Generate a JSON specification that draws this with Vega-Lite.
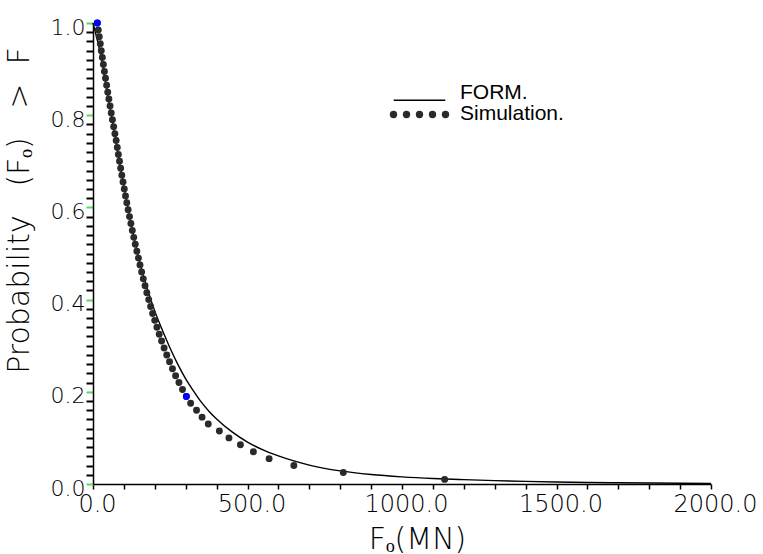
{
  "$schema": "https://vega.github.io/schema/vega-lite/v6.json",
  "width": 618,
  "height": 461,
  "autosize": {"type": "none"},
  "padding": {"left": 93, "top": 23, "right": 52, "bottom": 70},
  "background": "white",
  "config": {"view": {"stroke": null}, "font": "DejaVu Sans"},
  "datasets": {
    "form": [
      {"x": 0, "p": 1.0, "series": "FORM."},
      {"x": 25, "p": 0.93, "series": "FORM."},
      {"x": 50, "p": 0.835, "series": "FORM."},
      {"x": 75, "p": 0.74, "series": "FORM."},
      {"x": 100, "p": 0.645, "series": "FORM."},
      {"x": 125, "p": 0.56, "series": "FORM."},
      {"x": 150, "p": 0.485, "series": "FORM."},
      {"x": 175, "p": 0.425, "series": "FORM."},
      {"x": 200, "p": 0.375, "series": "FORM."},
      {"x": 225, "p": 0.333, "series": "FORM."},
      {"x": 250, "p": 0.294, "series": "FORM."},
      {"x": 275, "p": 0.259, "series": "FORM."},
      {"x": 300, "p": 0.228, "series": "FORM."},
      {"x": 325, "p": 0.202, "series": "FORM."},
      {"x": 350, "p": 0.178, "series": "FORM."},
      {"x": 375, "p": 0.158, "series": "FORM."},
      {"x": 400, "p": 0.141, "series": "FORM."},
      {"x": 450, "p": 0.113, "series": "FORM."},
      {"x": 500, "p": 0.091, "series": "FORM."},
      {"x": 550, "p": 0.074, "series": "FORM."},
      {"x": 600, "p": 0.061, "series": "FORM."},
      {"x": 650, "p": 0.05, "series": "FORM."},
      {"x": 700, "p": 0.041, "series": "FORM."},
      {"x": 800, "p": 0.0284, "series": "FORM."},
      {"x": 900, "p": 0.0206, "series": "FORM."},
      {"x": 1000, "p": 0.0155, "series": "FORM."},
      {"x": 1100, "p": 0.0119, "series": "FORM."},
      {"x": 1200, "p": 0.0094, "series": "FORM."},
      {"x": 1300, "p": 0.0073, "series": "FORM."},
      {"x": 1400, "p": 0.0057, "series": "FORM."},
      {"x": 1500, "p": 0.0044, "series": "FORM."},
      {"x": 1600, "p": 0.0034, "series": "FORM."},
      {"x": 1700, "p": 0.0027, "series": "FORM."},
      {"x": 1800, "p": 0.0021, "series": "FORM."},
      {"x": 1900, "p": 0.0016, "series": "FORM."},
      {"x": 2000, "p": 0.0013, "series": "FORM."}
    ],
    "sim": [
      {"x": 14, "p": 1.0, "kind": "marked", "series": "Simulation."},
      {"x": 17.1, "p": 0.985, "kind": "sample", "series": "Simulation."},
      {"x": 20.3, "p": 0.97, "kind": "sample", "series": "Simulation."},
      {"x": 23.6, "p": 0.955, "kind": "sample", "series": "Simulation."},
      {"x": 26.8, "p": 0.94, "kind": "sample", "series": "Simulation."},
      {"x": 30.2, "p": 0.925, "kind": "sample", "series": "Simulation."},
      {"x": 33.6, "p": 0.91, "kind": "sample", "series": "Simulation."},
      {"x": 37.0, "p": 0.895, "kind": "sample", "series": "Simulation."},
      {"x": 40.5, "p": 0.88, "kind": "sample", "series": "Simulation."},
      {"x": 44.1, "p": 0.865, "kind": "sample", "series": "Simulation."},
      {"x": 47.7, "p": 0.85, "kind": "sample", "series": "Simulation."},
      {"x": 51.4, "p": 0.835, "kind": "sample", "series": "Simulation."},
      {"x": 55.2, "p": 0.82, "kind": "sample", "series": "Simulation."},
      {"x": 59.0, "p": 0.805, "kind": "sample", "series": "Simulation."},
      {"x": 62.9, "p": 0.79, "kind": "sample", "series": "Simulation."},
      {"x": 66.9, "p": 0.775, "kind": "sample", "series": "Simulation."},
      {"x": 70.9, "p": 0.76, "kind": "sample", "series": "Simulation."},
      {"x": 75.0, "p": 0.745, "kind": "sample", "series": "Simulation."},
      {"x": 78.6, "p": 0.73, "kind": "sample", "series": "Simulation."},
      {"x": 82.1, "p": 0.715, "kind": "sample", "series": "Simulation."},
      {"x": 85.8, "p": 0.7, "kind": "sample", "series": "Simulation."},
      {"x": 89.5, "p": 0.685, "kind": "sample", "series": "Simulation."},
      {"x": 93.3, "p": 0.67, "kind": "sample", "series": "Simulation."},
      {"x": 97.2, "p": 0.655, "kind": "sample", "series": "Simulation."},
      {"x": 101.2, "p": 0.64, "kind": "sample", "series": "Simulation."},
      {"x": 105.2, "p": 0.625, "kind": "sample", "series": "Simulation."},
      {"x": 109.4, "p": 0.61, "kind": "sample", "series": "Simulation."},
      {"x": 113.7, "p": 0.595, "kind": "sample", "series": "Simulation."},
      {"x": 118.1, "p": 0.58, "kind": "sample", "series": "Simulation."},
      {"x": 122.6, "p": 0.565, "kind": "sample", "series": "Simulation."},
      {"x": 127.2, "p": 0.55, "kind": "sample", "series": "Simulation."},
      {"x": 131.9, "p": 0.535, "kind": "sample", "series": "Simulation."},
      {"x": 136.8, "p": 0.52, "kind": "sample", "series": "Simulation."},
      {"x": 141.9, "p": 0.505, "kind": "sample", "series": "Simulation."},
      {"x": 147.1, "p": 0.49, "kind": "sample", "series": "Simulation."},
      {"x": 152.1, "p": 0.475, "kind": "sample", "series": "Simulation."},
      {"x": 157.4, "p": 0.46, "kind": "sample", "series": "Simulation."},
      {"x": 162.8, "p": 0.445, "kind": "sample", "series": "Simulation."},
      {"x": 168.4, "p": 0.43, "kind": "sample", "series": "Simulation."},
      {"x": 174.2, "p": 0.415, "kind": "sample", "series": "Simulation."},
      {"x": 180.3, "p": 0.4, "kind": "sample", "series": "Simulation."},
      {"x": 186.5, "p": 0.385, "kind": "sample", "series": "Simulation."},
      {"x": 193.0, "p": 0.37, "kind": "sample", "series": "Simulation."},
      {"x": 199.8, "p": 0.355, "kind": "sample", "series": "Simulation."},
      {"x": 206.9, "p": 0.34, "kind": "sample", "series": "Simulation."},
      {"x": 214.3, "p": 0.325, "kind": "sample", "series": "Simulation."},
      {"x": 222.0, "p": 0.31, "kind": "sample", "series": "Simulation."},
      {"x": 230.1, "p": 0.295, "kind": "sample", "series": "Simulation."},
      {"x": 238.7, "p": 0.28, "kind": "sample", "series": "Simulation."},
      {"x": 247.7, "p": 0.265, "kind": "sample", "series": "Simulation."},
      {"x": 257.2, "p": 0.25, "kind": "sample", "series": "Simulation."},
      {"x": 267.3, "p": 0.235, "kind": "sample", "series": "Simulation."},
      {"x": 278.1, "p": 0.22, "kind": "sample", "series": "Simulation."},
      {"x": 289.7, "p": 0.205, "kind": "sample", "series": "Simulation."},
      {"x": 302.1, "p": 0.19, "kind": "marked", "series": "Simulation."},
      {"x": 316, "p": 0.175, "kind": "sample", "series": "Simulation."},
      {"x": 335, "p": 0.16, "kind": "sample", "series": "Simulation."},
      {"x": 353, "p": 0.145, "kind": "sample", "series": "Simulation."},
      {"x": 373, "p": 0.13, "kind": "sample", "series": "Simulation."},
      {"x": 409, "p": 0.115, "kind": "sample", "series": "Simulation."},
      {"x": 440, "p": 0.1, "kind": "sample", "series": "Simulation."},
      {"x": 477, "p": 0.085, "kind": "sample", "series": "Simulation."},
      {"x": 519, "p": 0.07, "kind": "sample", "series": "Simulation."},
      {"x": 570, "p": 0.055, "kind": "sample", "series": "Simulation."},
      {"x": 650, "p": 0.04, "kind": "sample", "series": "Simulation."},
      {"x": 810, "p": 0.025, "kind": "sample", "series": "Simulation."},
      {"x": 1138, "p": 0.01, "kind": "sample", "series": "Simulation."}
    ]
  },
  "encoding": {
    "x": {
      "field": "x",
      "type": "quantitative",
      "scale": {"domain": [0, 2000], "nice": false, "zero": false},
      "axis": {
        "values": [0, 100, 200, 300, 400, 500, 600, 700, 800, 900, 1000, 1100, 1200, 1300, 1400, 1500, 1600, 1700, 1800, 1900, 2000],
        "labelExpr": "datum.value % 500 === 0 ? format(datum.value, '.1f') : ''",
        "grid": false,
        "domainColor": "black",
        "domainWidth": 1.5,
        "tickColor": "black",
        "tickSize": 5,
        "tickWidth": 1.5,
        "labelFont": "DejaVu Sans",
        "labelFontWeight": 200,
        "labelFontSize": 24,
        "labelColor": "black",
        "labelPadding": 3,
        "labelOffset": 4,
        "labelFlush": false,
        "labelOverlap": false,
        "title": "Fₒ(MN)",
        "titleFont": "DejaVu Sans",
        "titleFontWeight": 200,
        "titleFontSize": 30,
        "titleColor": "black",
        "titleX": 324,
        "titleY": 64,
        "titleBaseline": "alphabetic"
      }
    },
    "y": {
      "field": "p",
      "type": "quantitative",
      "scale": {"domain": [0, 1], "nice": false, "zero": false},
      "axis": {
        "values": [0, 0.02, 0.04, 0.06, 0.08, 0.1, 0.12, 0.14, 0.16, 0.18, 0.2, 0.22, 0.24, 0.26, 0.28, 0.3, 0.32, 0.34, 0.36, 0.38, 0.4, 0.42, 0.44, 0.46, 0.48, 0.5, 0.52, 0.54, 0.56, 0.58, 0.6, 0.62, 0.64, 0.66, 0.68, 0.7, 0.72, 0.74, 0.76, 0.78, 0.8, 0.82, 0.84, 0.86, 0.88, 0.9, 0.92, 0.94, 0.96, 0.98, 1.0],
        "labelExpr": "abs(datum.value * 5 - round(datum.value * 5)) < 0.001 ? format(datum.value, '.1f') : ''",
        "grid": false,
        "domainColor": "black",
        "domainWidth": 1.5,
        "tickColor": {"condition": {"test": "abs(datum.value * 5 - round(datum.value * 5)) < 0.001", "value": "#55dd55"}, "value": "black"},
        "tickSize": 7,
        "tickWidth": 2,
        "labelFont": "DejaVu Sans",
        "labelFontWeight": 200,
        "labelFontSize": 22,
        "labelColor": "black",
        "labelPadding": 1,
        "labelOffset": 4,
        "labelFlush": false,
        "labelOverlap": false,
        "title": "Probability\u00a0\u00a0\u00a0(Fₒ)\u00a0\u00a0\u00a0>\u00a0\u00a0F",
        "titleFont": "DejaVu Sans",
        "titleFontWeight": 200,
        "titleFontSize": 30,
        "titleColor": "black",
        "titleX": -65,
        "titleY": 187,
        "titleBaseline": "alphabetic"
      }
    }
  },
  "layer": [
    {
      "data": {"name": "form"},
      "mark": {"type": "line", "strokeWidth": 1.4, "interpolate": "monotone"},
      "encoding": {
        "color": {
          "field": "series",
          "type": "nominal",
          "scale": {"domain": ["FORM.", "Simulation."], "range": ["#000000", "#2a2a2a"]},
          "legend": {
            "title": null,
            "orient": "none",
            "legendX": 316,
            "legendY": 59,
            "symbolSize": 100,
            "labelFont": "Liberation Sans",
            "labelFontSize": 21,
            "labelColor": "black",
            "labelOffset": 30,
            "labelLimit": 300,
            "rowPadding": -13,
            "padding": 0,
            "encode": {
              "symbols": {
                "update": {
                  "shape": {"signal": "datum.value === 'FORM.' ? 'M-5.16,1.54L5.16,1.54' : 'M-5.8,0.2a0.6,0.6 0 1,0 1.2,0a0.6,0.6 0 1,0 -1.2,0ZM-3.2,0.2a0.6,0.6 0 1,0 1.2,0a0.6,0.6 0 1,0 -1.2,0ZM-0.6,0.2a0.6,0.6 0 1,0 1.2,0a0.6,0.6 0 1,0 -1.2,0ZM2,0.2a0.6,0.6 0 1,0 1.2,0a0.6,0.6 0 1,0 -1.2,0ZM4.6,0.2a0.6,0.6 0 1,0 1.2,0a0.6,0.6 0 1,0 -1.2,0Z'"},
                  "fill": {"signal": "datum.value === 'FORM.' ? 'transparent' : '#000000'"},
                  "stroke": {"signal": "datum.value === 'FORM.' ? '#000000' : 'transparent'"},
                  "strokeWidth": {"value": 1.4},
                  "opacity": {"value": 1},
                  "fillOpacity": {"value": 1},
                  "strokeOpacity": {"value": 1}
                }
              }
            }
          }
        }
      }
    },
    {
      "data": {"name": "sim"},
      "mark": {"type": "point", "filled": true, "size": 48, "opacity": 1},
      "encoding": {
        "color": {
          "field": "series",
          "type": "nominal",
          "scale": {"domain": ["FORM.", "Simulation."], "range": ["#000000", "#2a2a2a"]}
        }
      }
    },
    {
      "data": {"name": "sim"},
      "transform": [{"filter": "datum.kind === 'marked'"}],
      "mark": {"type": "point", "filled": true, "size": 48, "opacity": 1, "color": "#0000ff"}
    }
  ]
}
